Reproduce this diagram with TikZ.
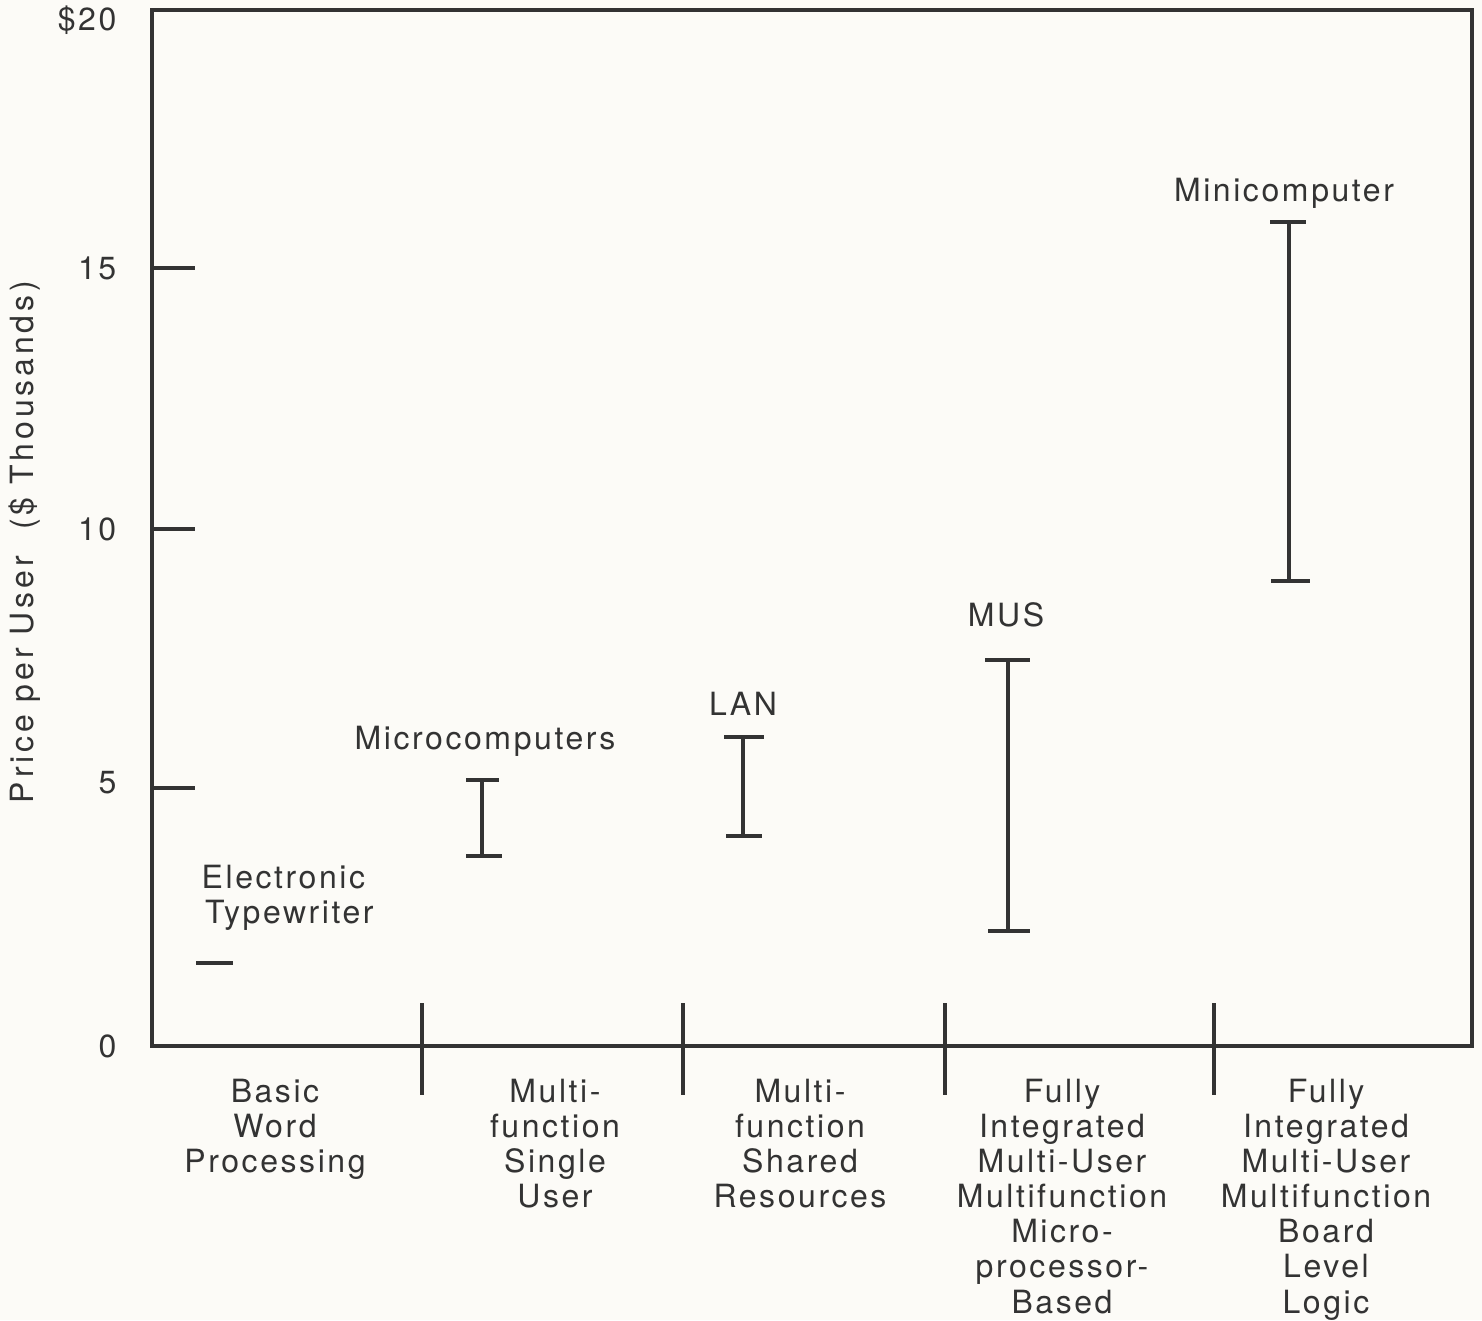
\documentclass[tikz,border=0pt]{standalone}
\usepackage{fontspec}
\setmainfont{TeX Gyre Heros}[LetterSpace=8]
\definecolor{paper}{HTML}{FCFBF7}
\definecolor{ink}{HTML}{333333}
\begin{document}
\begin{tikzpicture}[x=0.01cm,y=-0.01cm,
  ln/.style={draw=ink,line width=0.9pt},
  lbl/.style={text=ink,inner sep=0pt,font=\fontsize{9.1pt}{10pt}\selectfont,align=center},
  tick/.style={lbl,anchor=east}]
\fill[paper] (0,0) rectangle (1482,1320);
\useasboundingbox (0,0) rectangle (1482,1320);
% frame
\draw[ln] (152,1046) -- (152,10) -- (1472,10) -- (1472,1046) -- cycle;
% y ticks
\foreach \yy in {268,529,788} \draw[ln] (152,\yy) -- (195,\yy);
\node[tick] (t20) at (117,20) {\$20};
\node[tick] (t15) at (117,268) {15};
\node[tick] (t10) at (117,529) {10};
\node[tick] (t5) at (117,783) {5};
\node[tick] (t0) at (117,1046) {0};
\node[lbl,rotate=90] (ylab) at (25,542) {\addfontfeatures{LetterSpace=12}Price per User\hspace{4pt} (\$ Thousands)};
% category separators
\foreach \xx in {422,683,945,1214} \draw[ln] (\xx,1003) -- (\xx,1095);
% category labels
\node[lbl,anchor=north] (c1) at (275,1078) {Basic\\Word\\Processing};
\node[lbl,anchor=north] (c2) at (555,1078) {Multi-\\function\\Single\\User};
\node[lbl,anchor=north] (c3) at (800,1078) {Multi-\\function\\Shared\\Resources};
\node[lbl,anchor=north] (c4) at (1062,1078) {Fully\\Integrated\\Multi-User\\Multifunction\\Micro-\\processor-\\Based};
\node[lbl,anchor=north] (c5) at (1326,1078) {Fully\\Integrated\\Multi-User\\Multifunction\\Board\\Level\\Logic};
% electronic typewriter
\draw[ln] (196,963) -- (233,963);
\node[lbl,anchor=west,align=left] (et) at (201,898) {Electronic\\\hspace*{1pt}Typewriter};
% microcomputers
\draw[ln] (466,780) -- (499,780) (482,780) -- (482,856) (466,856) -- (502,856);
\node[lbl] (mc) at (485,741) {Microcomputers};
% LAN
\draw[ln] (724,737) -- (764,737) (743,737) -- (743,836) (726,836) -- (762,836);
\node[lbl] (lan) at (743,704) {LAN};
% MUS
\draw[ln] (985,660) -- (1030,660) (1008,660) -- (1008,931) (988,931) -- (1030,931);
\node[lbl] (mus) at (1006,615) {MUS};
% Minicomputer
\draw[ln] (1270,222) -- (1306,222) (1289,222) -- (1289,581) (1271,581) -- (1310,581);
\node[lbl] (mini) at (1284,193) {Minicomputer};
\end{tikzpicture}
\end{document}
